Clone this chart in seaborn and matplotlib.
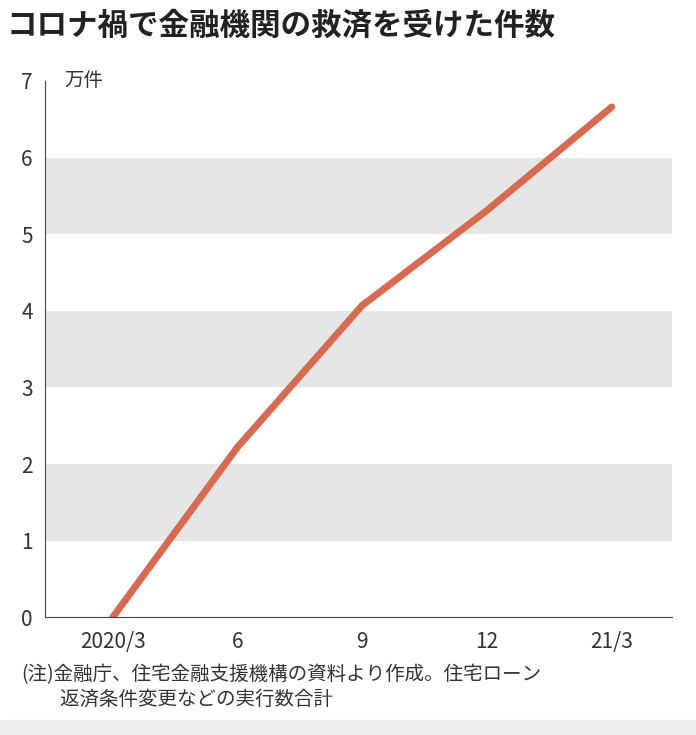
import matplotlib
matplotlib.use('Agg')
import matplotlib.pyplot as plt
import seaborn as sns

# data (単位: 万件)
periods = ['2020/3', '6', '9', '12', '21/3']
cases = [0.0, 2.22, 4.07, 5.31, 6.66]

sns.set_style('white')
plt.rcParams['font.family'] = ['Noto Sans CJK JP', 'DejaVu Sans']

fig = plt.figure(figsize=(6.96, 7.35), dpi=100)
ax = fig.add_axes([0.065, 0.16, 0.9, 0.73])

# gray bands
for lo in [1, 3, 5]:
    ax.axhspan(lo, lo + 1, color='#e6e6e6', zorder=0, lw=0)

xs = list(range(len(periods)))
sns.lineplot(x=xs, y=cases, ax=ax, color='#da6a4f', lw=5, zorder=3)

ax.set_xlim(-0.54, 4.48)
ax.set_ylim(0, 7)
ax.set_yticks(range(8))
ax.set_xticks(xs)
ax.set_xticklabels(periods)
ax.tick_params(axis='both', labelsize=15, colors='#333333', length=6, width=1)
ax.tick_params(axis='y', direction='out', pad=4, length=5)
ax.tick_params(axis='x', direction='out')
for s in ['top', 'right']:
    ax.spines[s].set_visible(False)
ax.spines['left'].set_color('#444444')
ax.spines['bottom'].set_color('#444444')
ax.text(0.03, 7, '万件', transform=ax.get_yaxis_transform(), fontsize=14,
        va='center', ha='left', color='#333333')

fig.text(0.01, 0.965, 'コロナ禍で金融機関の救済を受けた件数', fontsize=22,
         fontweight='bold', va='center', ha='left', color='#222222')
fig.text(0.03, 0.065, '(注)金融庁、住宅金融支援機構の資料より作成。住宅ローン\n　　返済条件変更などの実行数合計',
         fontsize=14, va='center', ha='left', color='#333333', linespacing=1.25)
fig.patches.append(plt.Rectangle((0, 0), 1, 0.02, transform=fig.transFigure,
                                 color='#eeeeee', zorder=0))

fig.savefig('out.png', dpi=100)
